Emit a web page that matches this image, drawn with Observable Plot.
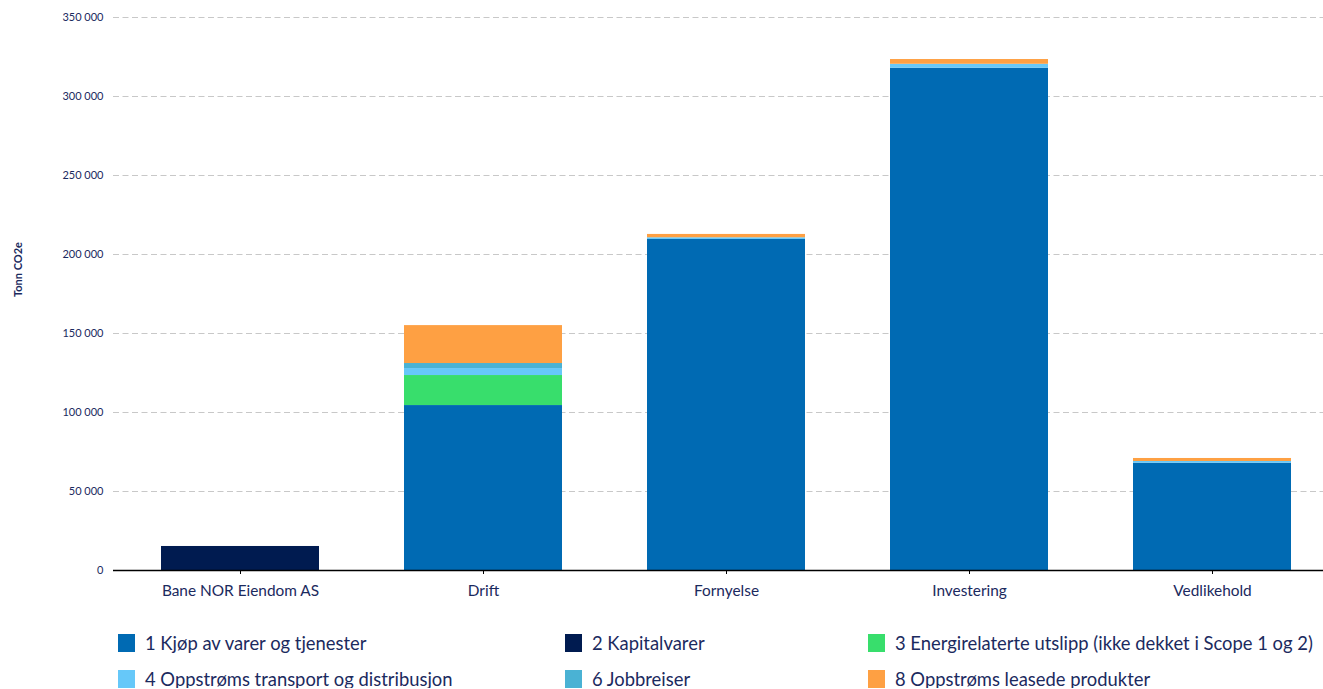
<!DOCTYPE html>
<html>
<head>
<meta charset="utf-8">
<script src="https://cdn.jsdelivr.net/npm/d3@7"></script>
<script src="https://cdn.jsdelivr.net/npm/@observablehq/plot@0.6"></script>
<style>
  html, body { margin: 0; padding: 0; background: #fff; }
  body { font-family: Lato, "Noto Sans", sans-serif; color: #1b2a5e; width: 1323px; overflow: hidden; }
  #legend { display: grid; grid-template-columns: 447px 303px 455px; padding-left: 118px; padding-top: 14px; row-gap: 18px; }
  .item { display: flex; align-items: center; height: 18px; font-size: 18.4px; white-space: nowrap; }
  .sw { width: 17px; height: 18px; margin-right: 10px; flex: none; }
</style>
</head>
<body>
<div id="chart"></div>
<div id="legend"></div>
<script>
// Emission categories (Scope 3) and business areas
const categories = ["Bane NOR Eiendom AS", "Drift", "Fornyelse", "Investering", "Vedlikehold"];
const series = [
  "1 Kjøp av varer og tjenester",
  "2 Kapitalvarer",
  "3 Energirelaterte utslipp (ikke dekket i Scope 1 og 2)",
  "4 Oppstrøms transport og distribusjon",
  "6 Jobbreiser",
  "8 Oppstrøms leasede produkter"
];
const colors = ["#006ab3", "#001b50", "#38de6c", "#66c8f9", "#4ab2d4", "#fea043"];

// Tonn CO2e per category, one value per business area
const kjopVarer      = [0, 104400, 209500, 317900, 67900];
const kapitalvarer   = [15200, 0, 0, 0, 0];
const energiUtslipp  = [0, 19000, 0, 0, 0];
const transport      = [0, 4400, 1100, 2500, 1100];
const jobbreiser     = [0, 3200, 0, 0, 0];
const leasede        = [0, 24000, 2100, 3000, 1900];

const yTicks = [0, 50000, 100000, 150000, 200000, 250000, 300000, 350000];

const seriesValues = [kjopVarer, kapitalvarer, energiUtslipp, transport, jobbreiser, leasede];
const rows = [];
series.forEach((s, i) => {
  categories.forEach((c, j) => {
    rows.push({category: c, series: s, value: seriesValues[i][j]});
  });
});

const fmt = d => d3.format(",")(d).replace(/,/g, " ");
const ink = "#1b2a5e";

const chart = Plot.plot({
  width: 1323,
  height: 620,
  marginLeft: 118,
  marginRight: 0,
  marginTop: 17,
  marginBottom: 50,
  style: {fontFamily: "Lato, 'Noto Sans', sans-serif", color: ink, background: "#fff"},
  x: {domain: categories, range: [118, 1333], paddingInner: 0.35, paddingOuter: 0.175, label: null},
  y: {domain: [0, 350000], label: null},
  color: {domain: series, range: colors},
  marks: [
    Plot.gridY(yTicks, {stroke: "#c8c8c8", strokeOpacity: 1, strokeDasharray: "6,3.5", insetLeft: -5}),
    Plot.barY(rows, Plot.stackY({x: "category", y: "value", fill: "series", order: series})),
    Plot.ruleY([0], {stroke: "#000", strokeWidth: 1.5, insetLeft: -5}),
    Plot.ruleX([118], {y1: 0, y2: 350000, stroke: "#000", strokeWidth: 1.5}),
    Plot.axisY(yTicks, {tickFormat: fmt, tickSize: 0, tickPadding: 15, fontSize: 11, fill: ink, label: null}),
    Plot.axisX({tickSize: 4, tickPadding: 11, fontSize: 15.4, fill: ink, stroke: "#000", label: null}),
    Plot.text(["Tonn CO2e"], {frameAnchor: "left", dx: -100, dy: 3, rotate: -90, fontSize: 11, fontWeight: "bold", fill: ink})
  ]
});
document.getElementById("chart").appendChild(chart);

// Legend in three columns
const legend = document.getElementById("legend");
series.forEach((s, i) => {
  const item = document.createElement("div");
  item.className = "item";
  const sw = document.createElement("span");
  sw.className = "sw";
  sw.style.background = colors[i];
  const label = document.createElement("span");
  label.textContent = s;
  item.appendChild(sw);
  item.appendChild(label);
  legend.appendChild(item);
});
</script>
</body>
</html>
